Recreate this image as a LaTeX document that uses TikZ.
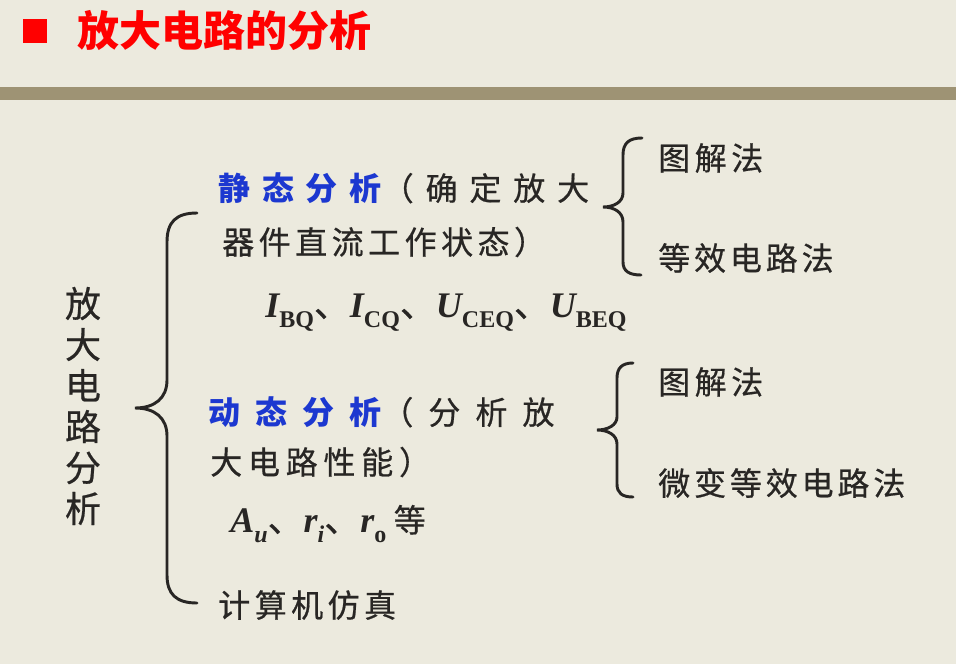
\documentclass[tikz,border=0pt]{standalone}
\usepackage{fontspec}
\usepackage{xcolor}
\usepackage{tikz}
\newfontfamily\cjk[FakeBold=0.6]{Noto Sans CJK SC}
\newfontfamily\cjkb{Noto Sans CJK SC}
\newfontfamily\tnr{Liberation Serif}
\definecolor{paper}{RGB}{236,234,222}
\definecolor{barcol}{RGB}{158,147,116}
\definecolor{ink}{RGB}{40,38,36}
\definecolor{hiblue}{RGB}{28,56,208}
\newcommand{\bsym}[2]{{\tnr\bfseries\itshape #1}\raisebox{-0.28em}{\fontsize{18}{18}\selectfont\tnr\bfseries #2}}
\newcommand{\dun}{{\cjk 、}}
\newcommand{\spc}[1]{\addfontfeature{LetterSpace=#1}}

\begin{document}
\begin{tikzpicture}[x=0.75pt,y=-0.75pt,
  txt/.style={anchor=west, inner sep=0pt, text=ink, font=\cjk\fontsize{24}{24}\selectfont},
  sym/.style={anchor=base west, inner sep=0pt, text=ink, font=\fontsize{27}{27}\selectfont},
  brace/.style={draw=ink, line width=2.2pt, line cap=round}]

\useasboundingbox (0,0) rectangle (956,664);
\fill[paper] (0,0) rectangle (956,664);
\fill[barcol] (0,87) rectangle (956,100);
\fill[red] (23,19) rectangle (47,43);

\node[txt, text=red, font=\cjkb\bfseries\fontsize{31.5}{31.5}\selectfont] (title) at (77,30) {放大电路的分析};

\node[txt, align=center, anchor=center, font=\cjk\fontsize{27}{30.75}\selectfont] (root) at (83,406) {放\\大\\电\\路\\分\\析};

% static part
\node[txt] (static1) at (218,188) {\spc{37}{\cjkb\spc{37}\bfseries\color{hiblue}静态分析}（确定放大};
\node[txt] (static2) at (222,242) {\spc{14}器件直流工作状态）};
\node[sym] (qpoint) at (265,317) {\bsym{I}{BQ}\dun\bsym{I}{CQ}\dun\bsym{U}{CEQ}\dun\bsym{U}{BEQ}};
\node[txt] (sgraph) at (658,158) {\spc{14}图解法};
\node[txt] (sequiv) at (658,258) {\spc{12}等效电路法};

% dynamic part
\node[txt] (dyn1) at (208,412) {\spc{47}{\cjkb\spc{47}\bfseries\color{hiblue}动态分析}（分析放};
\node[txt] (dyn2) at (210,462) {\spc{18}大电路性能）};
\node[sym] (perf) at (230,532) {\bsym{A}{\itshape u}\dun\bsym{r}{\itshape i}\dun\bsym{r}{o}\hspace{14\pgflinewidth}{\cjk\fontsize{24}{24}\selectfont 等}};
\node[txt] (dgraph) at (658,382) {\spc{14}图解法};
\node[txt] (dequiv) at (658,483) {\spc{12}微变等效电路法};

\node[txt] (sim) at (218,605) {\spc{14}计算机仿真};

% braces
\draw[brace] (197,213) .. controls (176,213) and (167,222) .. (167,242) -- (167,380)
  .. controls (167,398) and (155,408) .. (135,408) .. controls (155,408) and (167,418) .. (167,436)
  -- (167,575) .. controls (167,594) and (176,603) .. (197,603);
\draw[brace] (642,138) .. controls (629,138) and (623,143) .. (623,155) -- (623,193)
  .. controls (623,202) and (614,207) .. (603,207) .. controls (614,207) and (623,212) .. (623,222)
  -- (623,262) .. controls (623,271) and (629,275) .. (641,275);
\draw[brace] (633,363) .. controls (622,363) and (617,368) .. (617,378) -- (617,417)
  .. controls (617,425) and (608,430) .. (597,430) .. controls (608,430) and (617,435) .. (617,444)
  -- (617,484) .. controls (617,493) and (622,497) .. (633,497);

\end{tikzpicture}
\end{document}
